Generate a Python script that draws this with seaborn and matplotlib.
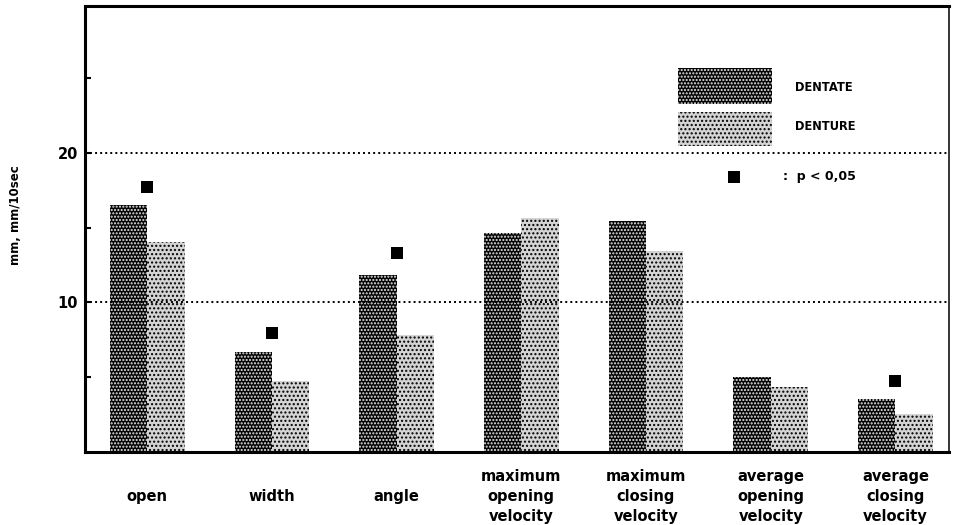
import matplotlib
matplotlib.use("Agg")
import matplotlib.pyplot as plt
from matplotlib.patches import Rectangle
import pandas as pd
import seaborn as sns

# Jaw movement measures, dentate vs. denture wearers
categories = ["open", "width", "angle",
              "maximum\nopening\nvelocity", "maximum\nclosing\nvelocity",
              "average\nopening\nvelocity", "average\nclosing\nvelocity"]
groups = ["DENTATE", "DENTURE"]
dentate = [16.5, 6.7, 11.8, 14.6, 15.45, 5.0, 3.55]
denture = [14.0, 4.75, 7.8, 15.65, 13.45, 4.35, 2.55]

# Significant differences (p < 0.05): category and marker height
sig_categories = ["open", "width", "angle", "average\nclosing\nvelocity"]
sig_heights = [17.7, 7.95, 13.3, 4.75]

ytick_values = [5, 10, 15, 20, 25]
ytick_labels = ["", "10", "", "20", ""]
gridline_values = [10, 20]

df = pd.DataFrame({
    "measure": categories * 2,
    "value": dentate + denture,
    "group": [groups[0]] * len(categories) + [groups[1]] * len(categories),
})

sns.set_theme(style="white")
plt.rcParams["font.family"] = ["DejaVu Sans"]
plt.rcParams["font.weight"] = "bold"
plt.rcParams["hatch.linewidth"] = 1.0
for key in ["text.color", "axes.labelcolor", "xtick.color", "ytick.color"]:
    plt.rcParams[key] = "black"

fig = plt.figure(figsize=(9.54, 5.25), dpi=100)
ax = fig.add_axes([85 / 954, 73 / 525, 864 / 954, 446 / 525])

sns.barplot(data=df, x="measure", y="value", hue="group", order=categories,
            hue_order=groups, width=0.6, palette=["#111111", "#cccccc"],
            legend=False, ax=ax, zorder=2)

# stippled fills: white dots on black, black dots on grey-white
styles = [dict(face="#050505", dots="#e8e8e8", hatch="....."),
          dict(face="#d4d4d4", dots="black", hatch="....")]
for cont, st in zip(ax.containers, styles):
    for bar in cont:
        bar.set_facecolor(st["face"])
        bar.set_edgecolor(st["dots"])
        bar.set_hatch(st["hatch"])
        bar.set_linewidth(0)

# significance markers centred on each pair
sig_x = [categories.index(c) for c in sig_categories]
ax.scatter(sig_x, sig_heights, marker="s", s=80, color="black", zorder=4,
           linewidths=0)

for v in gridline_values:
    ax.axhline(v, color="black", lw=1.4, linestyle=(0, (1, 1.6)), zorder=3)

ax.set_xlim(-0.5, 6.43)
ax.set_ylim(0, 29.8)
ax.set_yticks(ytick_values, ytick_labels)
ax.tick_params(axis="y", direction="in", length=4, width=1.5, pad=5,
               labelsize=10.5, left=True)
ax.set_xticks(range(len(categories)), categories)
ax.tick_params(axis="x", length=0, pad=32, labelsize=10.5)
for lab in ax.get_xticklabels():
    lab.set_verticalalignment("center")
    lab.set_linespacing(1.4)
    lab.set_fontweight("bold")
for lab in ax.get_yticklabels():
    lab.set_fontweight("bold")

ax.set_xlabel("")
ax.set_ylabel("mm, mm/10sec", fontsize=8.5, fontweight="bold", va="center")
ax.yaxis.set_label_coords(-0.081, 0.53)

for side, lw in [("left", 2.2), ("top", 2.2), ("bottom", 2.2), ("right", 1.1)]:
    ax.spines[side].set_visible(True)
    ax.spines[side].set_color("black")
    ax.spines[side].set_linewidth(lw)

# key
for (y0, h), st in zip([(0.780, 0.081), (0.686, 0.076)], styles):
    ax.add_patch(Rectangle((0.686, y0), 0.109, h, transform=ax.transAxes,
                           facecolor=st["face"], edgecolor=st["dots"],
                           hatch=st["hatch"], linewidth=0, zorder=2))
ax.text(0.822, 0.818, groups[0], transform=ax.transAxes, fontsize=8.3,
        fontweight="bold", va="center", ha="left")
ax.text(0.822, 0.729, groups[1], transform=ax.transAxes, fontsize=8.3,
        fontweight="bold", va="center", ha="left")
ax.scatter([0.751], [0.617], marker="s", s=70, color="black", linewidths=0,
           transform=ax.transAxes, zorder=4)
ax.text(0.808, 0.617, ":  p < 0,05", transform=ax.transAxes, fontsize=9,
        fontweight="bold", va="center", ha="left")

fig.savefig("out.png", dpi=100)
